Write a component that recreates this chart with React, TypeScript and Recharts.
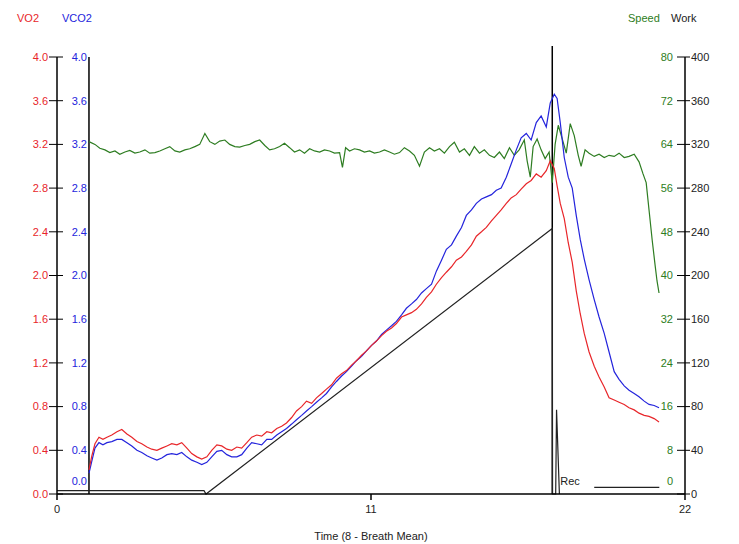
import { ComposedChart, Line, XAxis, YAxis, ReferenceLine } from "recharts";

// breath-averaged gas exchange (minutes, L/min)
const gasTime = [
  1.12, 1.22, 1.33, 1.47, 1.61, 1.75, 1.92, 2.1, 2.27, 2.45,
  2.62, 2.8, 2.97, 3.15, 3.32, 3.5, 3.67, 3.85, 4.02, 4.2,
  4.37, 4.55, 4.72, 4.9, 5.07, 5.25, 5.42, 5.6, 5.77, 5.95,
  6.12, 6.3, 6.47, 6.65, 6.82, 7.0, 7.17, 7.35, 7.52, 7.7,
  7.87, 8.04, 8.22, 8.39, 8.57, 8.74, 8.92, 9.09, 9.27, 9.44,
  9.62, 9.79, 9.97, 10.14, 10.32, 10.49, 10.67, 10.84, 11.02, 11.19,
  11.37, 11.54, 11.72, 11.89, 12.07, 12.24, 12.42, 12.59, 12.77, 12.94,
  13.12, 13.29, 13.47, 13.64, 13.82, 13.99, 14.17, 14.34, 14.52, 14.69,
  14.87, 15.04, 15.22, 15.39, 15.56, 15.74, 15.91, 16.09, 16.26, 16.44,
  16.61, 16.79, 16.96, 17.14, 17.28, 17.42, 17.52, 17.63, 17.77, 17.91,
  18.05, 18.19, 18.33, 18.47, 18.64, 18.82, 18.99, 19.17, 19.34, 19.52,
  19.69, 19.87, 20.04, 20.22, 20.39, 20.57, 20.74, 20.92, 21.09,
];
const vo2 = [
  0.22, 0.35, 0.46, 0.52, 0.5, 0.52, 0.54, 0.57, 0.59, 0.55,
  0.52, 0.48, 0.46, 0.43, 0.41, 0.4, 0.42, 0.44, 0.46, 0.45,
  0.47, 0.42, 0.37, 0.34, 0.32, 0.34, 0.4, 0.45, 0.44, 0.41,
  0.4, 0.43, 0.42, 0.47, 0.52, 0.54, 0.53, 0.57, 0.56, 0.6,
  0.62, 0.65, 0.7, 0.76, 0.8, 0.85, 0.83, 0.88, 0.92, 0.96,
  1.0, 1.06, 1.1, 1.13, 1.18, 1.22, 1.27, 1.31, 1.36, 1.4,
  1.45, 1.49, 1.52, 1.56, 1.62, 1.64, 1.66, 1.69, 1.74, 1.8,
  1.85, 1.92, 1.98, 2.03, 2.08, 2.14, 2.17, 2.22, 2.28, 2.36,
  2.4, 2.44, 2.5, 2.55, 2.6, 2.66, 2.71, 2.74, 2.79, 2.84,
  2.87, 2.93, 2.9, 2.96, 3.05, 2.98, 2.82, 2.66, 2.52, 2.3,
  2.12, 1.86, 1.65, 1.47, 1.3, 1.17, 1.07, 0.98, 0.88, 0.86,
  0.84, 0.82, 0.79, 0.77, 0.74, 0.72, 0.71, 0.69, 0.66,
];
const vco2 = [
  0.19, 0.3, 0.42, 0.47, 0.45, 0.47, 0.48, 0.5, 0.5, 0.47,
  0.44, 0.4, 0.38, 0.35, 0.33, 0.31, 0.33, 0.36, 0.37, 0.36,
  0.38, 0.34, 0.31, 0.29, 0.27, 0.29, 0.34, 0.39, 0.4, 0.36,
  0.34, 0.34, 0.36, 0.42, 0.47, 0.46, 0.45, 0.5, 0.5, 0.54,
  0.57, 0.6, 0.64, 0.68, 0.72, 0.76, 0.8, 0.84, 0.88, 0.92,
  0.98, 1.03, 1.08, 1.12, 1.17, 1.22, 1.26, 1.31, 1.36, 1.4,
  1.46, 1.5, 1.54, 1.58, 1.64, 1.7, 1.74, 1.78, 1.84, 1.88,
  1.92, 2.04, 2.14, 2.24, 2.28, 2.36, 2.44, 2.55, 2.6, 2.66,
  2.7, 2.72, 2.74, 2.78, 2.8, 2.9, 3.02, 3.15, 3.26, 3.3,
  3.24, 3.4, 3.46, 3.36, 3.58, 3.66, 3.62, 3.4, 3.08, 2.9,
  2.8, 2.55, 2.33, 2.15, 1.96, 1.78, 1.62, 1.47, 1.3, 1.12,
  1.05, 0.99, 0.95, 0.92, 0.89, 0.85, 0.82, 0.81, 0.79,
];

const speedTime = [
  1.12, 1.33, 1.5, 1.68, 1.85, 2.03, 2.2, 2.38, 2.55, 2.73,
  2.9, 3.08, 3.25, 3.43, 3.6, 3.78, 3.95, 4.13, 4.3, 4.48,
  4.65, 4.83, 5.0, 5.18, 5.35, 5.53, 5.7, 5.88, 6.05, 6.23,
  6.4, 6.58, 6.75, 6.93, 7.1, 7.28, 7.45, 7.62, 7.8, 7.97,
  8.15, 8.32, 8.5, 8.67, 8.85, 9.02, 9.2, 9.37, 9.55, 9.72,
  9.9, 10.0, 10.11, 10.25, 10.42, 10.6, 10.77, 10.95, 11.12, 11.3,
  11.47, 11.65, 11.82, 12.0, 12.17, 12.35, 12.52, 12.7, 12.87, 13.05,
  13.22, 13.4, 13.57, 13.75, 13.92, 14.1, 14.27, 14.45, 14.62, 14.8,
  14.97, 15.15, 15.32, 15.5, 15.67, 15.85, 16.02, 16.19, 16.37, 16.47,
  16.58, 16.68, 16.82, 16.96, 17.1, 17.24, 17.35, 17.45, 17.56, 17.7,
  17.84, 17.98, 18.12, 18.26, 18.36, 18.5, 18.64, 18.82, 18.99, 19.17,
  19.34, 19.52, 19.69, 19.87, 20.04, 20.22, 20.39, 20.53, 20.64, 20.74,
  20.85, 20.95, 21.02, 21.09,
];
const speed = [
  64.5, 64.0, 63.3, 63.0, 62.5, 62.8, 62.2, 62.6, 62.9, 62.4,
  62.6, 63.0, 62.4, 62.5, 62.8, 63.2, 63.6, 62.8, 62.6, 63.0,
  63.2, 63.6, 64.0, 66.0, 64.5, 64.0, 64.6, 64.8, 64.0, 63.6,
  63.5, 63.8, 64.0, 64.5, 64.8, 63.8, 63.0, 63.2, 63.6, 64.2,
  63.4, 62.6, 63.0, 62.4, 63.2, 62.8, 62.6, 63.0, 62.8, 62.4,
  62.5, 59.8, 63.4, 62.8, 63.2, 63.0, 62.6, 62.8, 62.4, 62.6,
  63.0, 62.6, 62.2, 62.5, 63.4, 62.8, 62.0, 60.0, 62.6, 63.4,
  62.8, 63.2, 62.4, 63.6, 64.4, 62.6, 63.2, 62.0, 63.6, 62.4,
  63.0, 62.0, 61.6, 62.6, 61.4, 63.4, 62.0, 63.0, 64.8, 61.0,
  58.0, 63.6, 65.0, 63.0, 61.4, 62.6, 57.0, 64.0, 67.5, 65.0,
  62.4, 67.8, 65.6, 62.0, 60.0, 63.0, 62.4, 61.8, 62.2, 61.6,
  62.0, 61.8, 62.4, 61.6, 61.8, 62.2, 60.8, 58.6, 57.0, 52.0,
  46.5, 42.0, 39.0, 36.8,
];

const workTime = [0, 5.15, 5.22, 17.35, 17.36, 17.47, 17.5, 17.6, 17.62, 18.82, 21.1];
const work = [3, 3, 0, 243, 0, 0, 77, 0, null, 6, 6];

const gasTicks = [0, 0.4, 0.8, 1.2, 1.6, 2.0, 2.4, 2.8, 3.2, 3.6, 4.0];
const speedTicks = [0, 8, 16, 24, 32, 40, 48, 56, 64, 72, 80];
const workTicks = [0, 40, 80, 120, 160, 200, 240, 280, 320, 360, 400];
const timeTicks = [0, 11, 22];
const exerciseStart = 1.12;
const exerciseEnd = 17.35;

const gasData = gasTime.map((t, i) => ({ t, vo2: vo2[i], vco2: vco2[i] }));
const speedData = speedTime.map((t, i) => ({ t, speed: speed[i] }));
const workData = workTime.map((t, i) => ({ t, work: work[i] }));

const W = 739;
const H = 544;
const PL = 57;
const PR = 685;
const PT = 57;
const PB = 494;
const START_X = PL + (exerciseStart / 22) * (PR - PL);

const RED = "#e8262a";
const BLUE = "#2424dc";
const GREEN = "#2e7d22";
const FONT = 11;

function header(text: string, x: number, color: string) {
  return () => (
    <text x={x} y={22} fill={color} fontSize={FONT}>
      {text}
    </text>
  );
}

function Vo2Tick({ y, payload }: any) {
  return (
    <g>
      <line x1={PL - 8} x2={PL + 6} y1={y} y2={y} stroke="#000" />
      <text x={PL - 9} y={y} dy="0.35em" textAnchor="end" fill={RED} fontSize={FONT}>
        {payload.value.toFixed(1)}
      </text>
    </g>
  );
}

function Vco2Tick({ y, payload }: any) {
  const lift = payload.value === 0 ? -13 : 0;
  return (
    <text x={START_X - 2} y={y + lift} dy="0.35em" textAnchor="end" fill={BLUE} fontSize={FONT}>
      {payload.value.toFixed(1)}
    </text>
  );
}

function SpeedTick({ y, payload }: any) {
  const lift = payload.value === 0 ? -13 : 0;
  return (
    <text x={PR - 12} y={y + lift} dy="0.35em" textAnchor="end" fill={GREEN} fontSize={FONT}>
      {payload.value}
    </text>
  );
}

function WorkTick({ y, payload }: any) {
  return (
    <g>
      <line x1={PR - 8} x2={PR + 5} y1={y} y2={y} stroke="#000" />
      <text x={PR + 6} y={y} dy="0.35em" textAnchor="start" fill="#222" fontSize={FONT}>
        {payload.value}
      </text>
    </g>
  );
}

export default function App() {
  return (
    <div
      style={{
        position: "absolute",
        left: 0,
        top: 0,
        width: W,
        height: H,
        background: "#fff",
        fontFamily: "'Liberation Sans', Arial, sans-serif",
      }}
    >
      <ComposedChart width={W} height={H} margin={{ top: PT, right: 0, bottom: 0, left: 0 }}>
        <XAxis
          dataKey="t"
          type="number"
          domain={[0, 22]}
          ticks={timeTicks}
          height={H - PB}
          stroke="#000"
          strokeWidth={1.5}
          tickSize={6}
          tickMargin={5}
          tick={{ fill: "#222", fontSize: FONT }}
          label={{ value: "Time (8 - Breath Mean)", position: "insideBottom", offset: 4, fill: "#222", fontSize: FONT }}
        />
        <YAxis
          yAxisId="vo2"
          orientation="left"
          width={PL}
          domain={[0, 4]}
          ticks={gasTicks}
          stroke="#000"
          strokeWidth={1.5}
          tickLine={false}
          tick={Vo2Tick}
          label={header("VO2", 17, RED)}
        />
        <YAxis
          yAxisId="vco2"
          orientation="left"
          mirror
          domain={[0, 4]}
          ticks={gasTicks}
          axisLine={false}
          tickLine={false}
          tick={Vco2Tick}
          label={header("VCO2", 62, BLUE)}
        />
        <YAxis
          yAxisId="speed"
          orientation="right"
          mirror
          domain={[0, 80]}
          ticks={speedTicks}
          axisLine={false}
          tickLine={false}
          tick={SpeedTick}
          label={header("Speed", 628, GREEN)}
        />
        <YAxis
          yAxisId="work"
          orientation="right"
          width={W - PR}
          domain={[0, 400]}
          ticks={workTicks}
          stroke="#000"
          strokeWidth={1.5}
          tickLine={false}
          tick={WorkTick}
          label={header("Work", 671, "#222")}
        />
        <ReferenceLine yAxisId="vo2" x={exerciseStart} stroke="#000" strokeWidth={1.5} />
        <ReferenceLine
          yAxisId="vo2"
          segment={[
            { x: exerciseEnd, y: 0 },
            { x: exerciseEnd, y: 4.1 },
          ]}
          ifOverflow="visible"
          stroke="#000"
          strokeWidth={1.5}
          label={(props: any) => (
            <text x={(props.viewBox?.x ?? 553) + 8} y={PB - 9} fill="#222" fontSize={FONT}>
              Rec
            </text>
          )}
        />
        <Line
          data={workData}
          yAxisId="work"
          dataKey="work"
          stroke="#222"
          strokeWidth={1.2}
          dot={false}
          isAnimationActive={false}
        />
        <Line
          data={speedData}
          yAxisId="speed"
          dataKey="speed"
          stroke={GREEN}
          strokeWidth={1.2}
          dot={false}
          isAnimationActive={false}
        />
        <Line
          data={gasData}
          yAxisId="vco2"
          dataKey="vco2"
          stroke={BLUE}
          strokeWidth={1.2}
          dot={false}
          isAnimationActive={false}
        />
        <Line
          data={gasData}
          yAxisId="vo2"
          dataKey="vo2"
          stroke={RED}
          strokeWidth={1.2}
          dot={false}
          isAnimationActive={false}
        />
      </ComposedChart>
    </div>
  );
}
